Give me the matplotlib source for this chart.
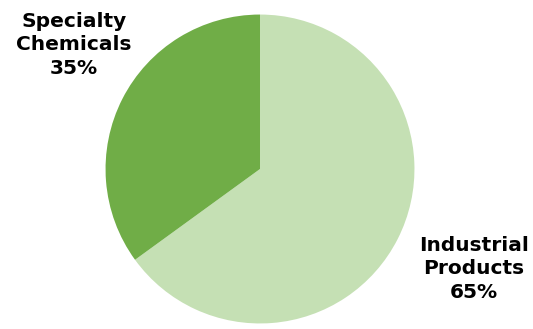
import matplotlib
matplotlib.use("Agg")
import matplotlib.pyplot as plt

categories = ["Industrial\nProducts", "Specialty\nChemicals"]
values = [65, 35]
colors = ["#C5E0B4", "#70AD47"]

fig = plt.figure(figsize=(5.33, 3.29), dpi=100)
ax = fig.add_axes([104/533, 4/329, 312/533, 312/329])
ax.pie(values, colors=colors, startangle=90, counterclock=False,
       wedgeprops=dict(linewidth=0), radius=1.0)
ax.set_xlim(-1.01, 1.01)
ax.set_ylim(-1.01, 1.01)
ax.set_aspect("equal")
ax.axis("off")

label_pos = [(474/533, 1 - 269/329), (74/533, 1 - 45/329)]
for cat, v, (x, y) in zip(categories, values, label_pos):
    fig.text(x, y, f"{cat}\n{v}%", ha="center", va="center",
             fontsize=14.5, fontweight="bold", family="DejaVu Sans",
             linespacing=1.28, color="#000000")

fig.savefig("out.png", dpi=100)
